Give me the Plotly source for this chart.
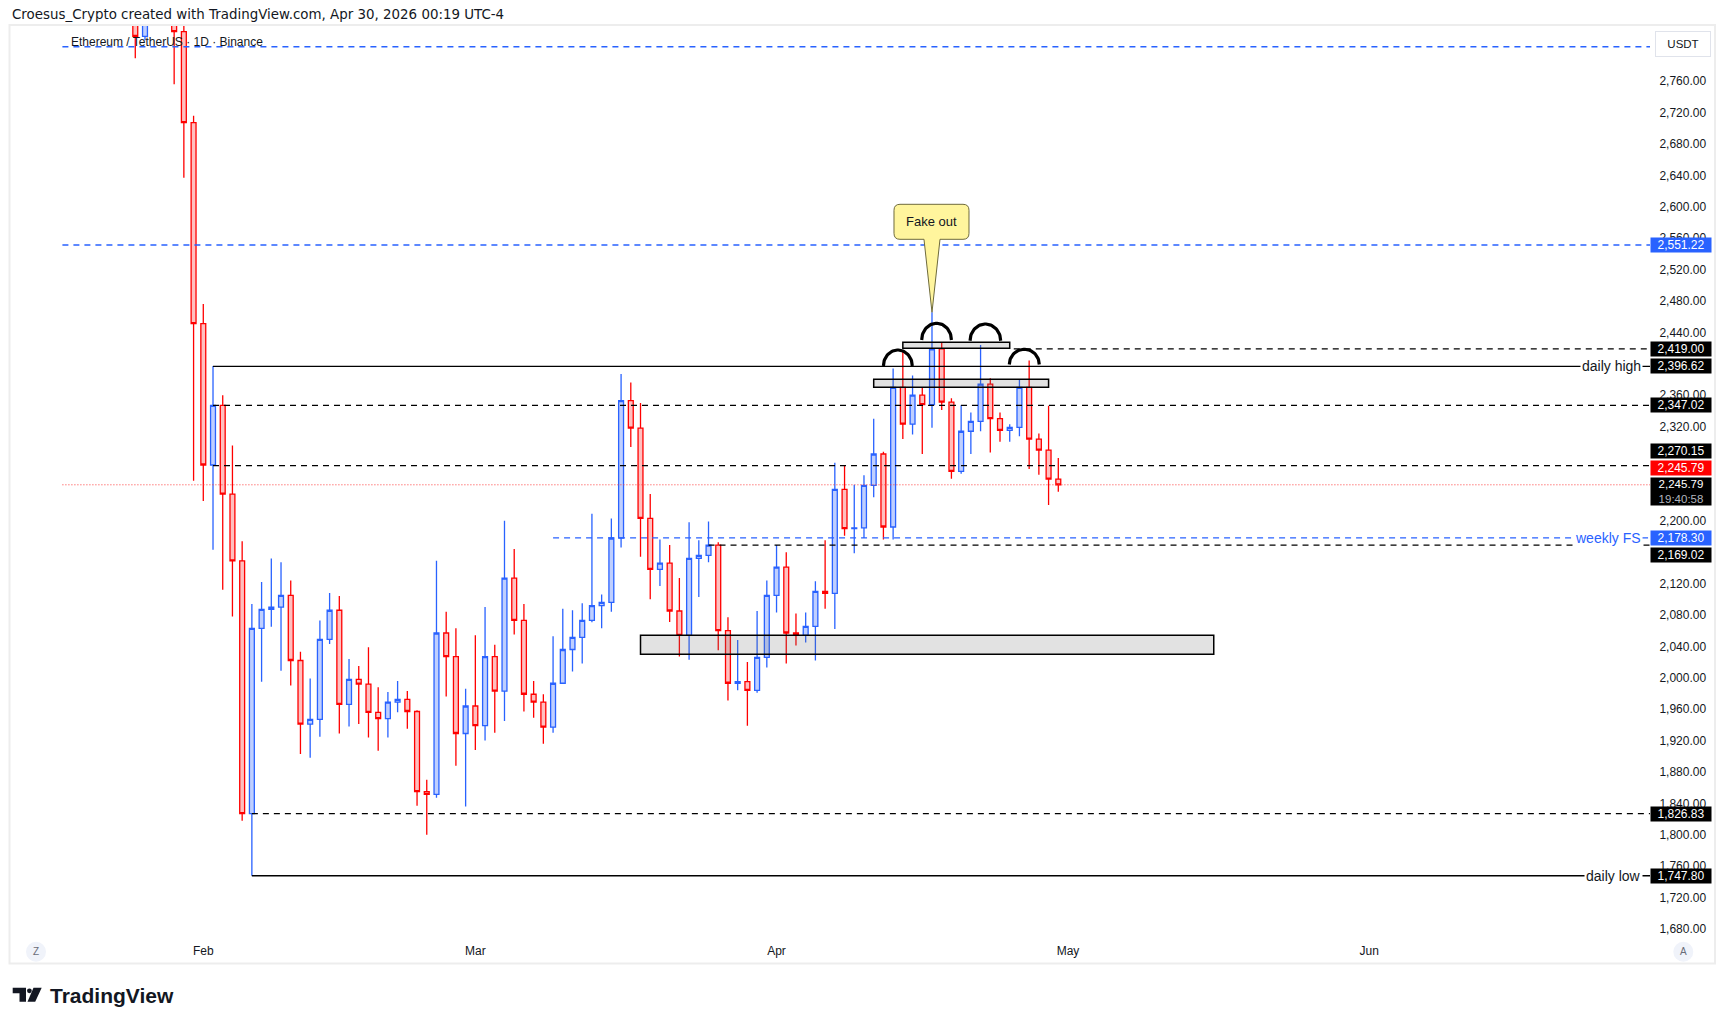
import numpy as np
import pandas as pd
import plotly.graph_objects as go

# ---------------- data ----------------
dates = ["2026-01-25", "2026-01-26", "2026-01-29", "2026-01-30", "2026-01-31",
         "2026-02-01", "2026-02-02", "2026-02-03", "2026-02-04", "2026-02-05", "2026-02-06",
         "2026-02-07", "2026-02-08", "2026-02-09", "2026-02-10", "2026-02-11", "2026-02-12",
         "2026-02-13", "2026-02-14", "2026-02-15", "2026-02-16", "2026-02-17", "2026-02-18",
         "2026-02-19", "2026-02-20", "2026-02-21", "2026-02-22", "2026-02-23", "2026-02-24",
         "2026-02-25", "2026-02-26", "2026-02-27", "2026-02-28",
         "2026-03-01", "2026-03-02", "2026-03-03", "2026-03-04", "2026-03-05", "2026-03-06",
         "2026-03-07", "2026-03-08", "2026-03-09", "2026-03-10", "2026-03-11", "2026-03-12",
         "2026-03-13", "2026-03-14", "2026-03-15", "2026-03-16", "2026-03-17", "2026-03-18",
         "2026-03-19", "2026-03-20", "2026-03-21", "2026-03-22", "2026-03-23", "2026-03-24",
         "2026-03-25", "2026-03-26", "2026-03-27", "2026-03-28", "2026-03-29", "2026-03-30",
         "2026-03-31",
         "2026-04-01", "2026-04-02", "2026-04-03", "2026-04-04", "2026-04-05", "2026-04-06",
         "2026-04-07", "2026-04-08", "2026-04-09", "2026-04-10", "2026-04-11", "2026-04-12",
         "2026-04-13", "2026-04-14", "2026-04-15", "2026-04-16", "2026-04-17", "2026-04-18",
         "2026-04-19", "2026-04-20", "2026-04-21", "2026-04-22", "2026-04-23", "2026-04-24",
         "2026-04-25", "2026-04-26", "2026-04-27", "2026-04-28", "2026-04-29", "2026-04-30"]

opens = [2858, 2817, 2862, 2823, 2707,
         2451, 2271, 2347, 2234, 2149, 1827,
         2063, 2087, 2090, 2105, 2022, 1941,
         1947, 2049, 2086, 1966, 1998, 1992,
         1956, 1948, 1969, 1972.5, 1957, 1855,
         1851.5, 2057, 2027, 1929,
         1964, 1939, 2027, 1983, 2127, 2073,
         1979, 1969, 1937, 1993, 2036, 2051.5,
         2073, 2092, 2096, 2178, 2353, 2318,
         2203, 2138, 2146, 2085, 2054, 2152,
         2156, 2169, 2060, 1993, 1995, 1984,
         2026,
         2105, 2141, 2057, 2054, 2065.5, 2110,
         2107.5, 2240, 2190, 2191, 2245, 2285,
         2192, 2370, 2323, 2360, 2348, 2419,
         2351, 2263, 2314, 2326.6, 2374, 2330,
         2315, 2319, 2370, 2304, 2290, 2253]

highs = [2875, 2880, 2890, 2836, 2716,
         2476, 2397, 2360, 2296, 2174, 2094,
         2122, 2152, 2147, 2124, 2033, 1999,
         2073, 2108, 2104, 2024, 2015, 2039,
         1988, 1982, 1996, 1983, 1958.5, 1870,
         2149, 2084, 2063, 1986,
         2054, 2090, 2042, 2200, 2164, 2094,
         1996, 1979, 2053, 2088, 2086, 2095,
         2209, 2106, 2203, 2387, 2376, 2350,
         2234, 2176, 2169, 2127, 2198, 2175,
         2199, 2172.5, 2077, 2048, 2020, 2085,
         2124,
         2169, 2160, 2082, 2083, 2123, 2175,
         2274, 2271, 2246, 2258, 2330, 2288,
         2394, 2416, 2385, 2370, 2465.5, 2427,
         2356, 2347, 2338, 2424, 2381.4, 2338,
         2323, 2380, 2404, 2311, 2346.5, 2280]

lows = [2789, 2812, 2756, 2637, 2251,
        2225, 2163, 2112, 2078, 1818, 1747.8,
        1995, 2065, 2009, 1990, 1903, 1898,
        1925, 2043, 1929, 1938, 1941, 1924,
        1907, 1924, 1956, 1935, 1837, 1800,
        1847, 1976, 1888, 1836,
        1908, 1920, 1930, 1945, 2055, 1957,
        1949, 1916, 1930, 1992, 2008, 2018,
        2070.6, 2063, 2084, 2166, 2294, 2154,
        2100, 2117, 2071, 2027, 2023, 2103,
        2147, 2035, 1971, 1984, 1939, 1981,
        2013,
        2083, 2018, 2041, 2045, 2022, 2088,
        2062, 2181, 2158.5, 2178, 2230, 2176,
        2176, 2304, 2310, 2285, 2318.5, 2341,
        2253.5, 2260, 2285, 2314, 2287, 2300.6,
        2300.6, 2307.5, 2266, 2258.6, 2220, 2237]

closes = [2817, 2848, 2823, 2707, 2451,
          2271, 2347, 2234, 2149, 1827, 2063,
          2087, 2090, 2105, 2022, 1941, 1947,
          2049, 2086, 1966, 1998, 1992, 1956,
          1948, 1969, 1972.5, 1957, 1855, 1851.5,
          2057, 2027, 1929, 1964,
          1939, 2027, 1983, 2127, 2073, 1979,
          1969, 1937, 1993, 2036, 2051.5, 2073,
          2092, 2096, 2178, 2353, 2318, 2203,
          2138, 2146, 2085, 2054, 2152, 2156,
          2169, 2060, 1993, 1995, 1984, 2026,
          2105,
          2141, 2057, 2054, 2065.5, 2110, 2107.5,
          2240, 2190, 2191, 2245, 2285, 2192,
          2370, 2323, 2360, 2348, 2419, 2351,
          2263, 2314, 2326.6, 2374, 2330, 2315,
          2319, 2370, 2304, 2290, 2253, 2245.79]

# horizontal level drawings
level_prices = [2803.8, 2551.22, 2419.00, 2396.62, 2347.02, 2270.15, 2245.79, 2178.30, 2169.02, 1826.83, 1747.80]
level_starts = ["2026-01-17 12:00", "2026-01-17 12:00", "2026-04-25 10:00", "2026-02-02", "2026-02-02",
                "2026-02-02", "2026-01-17 12:00", "2026-03-09", "2026-03-25", "2026-02-06", "2026-02-06"]
level_colors = ["#2962FF", "#2962FF", "#000000", "#000000", "#000000", "#000000", "#FF3B3B",
                "#2962FF", "#000000", "#000000", "#000000"]
level_dashes = ["6px,5px", "6px,5px", "6px,5px", "solid", "6px,5px", "6px,5px", "1px,2px",
                "6px,5px", "6px,5px", "6px,5px", "solid"]

# level texts
level_texts = ["daily high", "weekly FS", "daily low"]
level_text_prices = [2396.62, 2178.30, 1747.80]
level_text_colors = ["#131722", "#2962FF", "#131722"]

# price-axis labels
label_prices = [2551.22, 2419.00, 2396.62, 2347.02, 2270.15, 2245.79, 2178.30, 2169.02, 1826.83, 1747.80]
label_colors = ["#2962FF", "#000000", "#000000", "#000000", "#000000", "#FF0000", "#2962FF", "#000000", "#000000", "#000000"]
label_shift = [0, 0, 0, 0, 14.5, 16.7, 0, -9.7, 0, 0]
countdown_text = "19:40:58"
last_price = 2245.79

# rectangles (zones)
rect_x0 = ["2026-03-18", "2026-04-11", "2026-04-14"]
rect_x1 = ["2026-05-16", "2026-04-29", "2026-04-25"]
rect_y0 = [2029.8, 2370.0, 2419.6]
rect_y1 = [2054.0, 2380.1, 2427.3]

# arcs
arc_start = ["2026-04-12 00:00", "2026-04-15 22:30", "2026-04-20 22:00", "2026-04-24 23:00"]
arc_end = ["2026-04-14 23:20", "2026-04-19 00:00", "2026-04-24 01:40", "2026-04-28 01:00"]
arc_base = [2397.0, 2430.2, 2429.3, 2399.0]
arc_top = [2417.5, 2451.5, 2450.6, 2418.4]

# callout
callout_date = "2026-04-17"
callout_text = "Fake out"

# axes (ticks fully hidden behind price labels in the reference are left out)
month_ticks = ["2026-02-01", "2026-03-01", "2026-04-01", "2026-05-01", "2026-06-01"]
month_labels = ["Feb", "Mar", "Apr", "May", "Jun"]
hidden_ticks = [2160, 2240, 2280, 2400]
price_ticks = [v for v in range(1680, 2761, 40) if v not in hidden_ticks]
price_tick_labels = [f"{v:,.2f}" for v in price_ticks]

# ---------------- layout geometry ----------------
W, H = 1726, 1025
PL, PR, PT, PB = 11, 1650, 26, 938
PW, PH = PR - PL, PB - PT


def px(x):
    return (x - PL) / PW


def py(y):
    return (PB - y) / PH


FONT = "Liberation Sans, Arial, sans-serif"
HFONT = "DejaVu Sans, Verdana, sans-serif"
TXT = "#131722"

fig = go.Figure()

fig.add_trace(go.Candlestick(
    x=dates, open=opens, high=highs, low=lows, close=closes,
    increasing=dict(line=dict(color="#2962FF", width=1.3), fillcolor="#BFCFFF"),
    decreasing=dict(line=dict(color="#FF0000", width=1.3), fillcolor="#FFBFBF"),
    whiskerwidth=0, showlegend=False, hoverinfo="skip",
))

shapes = []
annotations = []

x_end = "2026-07-15"
for p, s, c, d in zip(level_prices, level_starts, level_colors, level_dashes):
    shapes.append(dict(type="line", xref="x", yref="y", x0=s, x1=x_end, y0=p, y1=p,
                       line=dict(color=c, width=1.3 if d != "1px,2px" else 1, dash=d), layer="above"))

for t, p, c in zip(level_texts, level_text_prices, level_text_colors):
    annotations.append(dict(xref="paper", yref="y", x=px(1643), y=p, xanchor="right", yanchor="middle",
                            text=t, showarrow=False, bgcolor="white", borderpad=1,
                            font=dict(family=FONT, size=14, color=c)))

for x0, x1, y0, y1 in zip(rect_x0, rect_x1, rect_y0, rect_y1):
    shapes.append(dict(type="rect", xref="x", yref="y", x0=x0, x1=x1, y0=y0, y1=y1,
                       fillcolor="rgba(110,110,110,0.2)", line=dict(color="#000000", width=1.5), layer="above"))

# arcs as smooth half-ellipses
for s, e, b, t in zip(arc_start, arc_end, arc_base, arc_top):
    ts, te = pd.Timestamp(s), pd.Timestamp(e)
    th = np.linspace(0, np.pi, 40)
    frac = (1 - np.cos(th)) / 2
    xs = [ts + (te - ts) * f for f in frac]
    ys = b + (t - b) * np.sin(th)
    fig.add_trace(go.Scatter(x=xs, y=ys, mode="lines", line=dict(color="black", width=3.2),
                             showlegend=False, hoverinfo="skip"))

# callout "Fake out"
ci = dates.index(callout_date)
cy = highs[ci]
shapes.append(dict(type="path", xref="x", yref="y", xsizemode="pixel", ysizemode="pixel",
                   xanchor=callout_date, yanchor=cy,
                   path="M -32,108 L 31,108 Q 37,108 37,102 L 37,79 Q 37,73 31,73 L 8,73 L 0,0 "
                        "L -8,73 L -32,73 Q -38,73 -38,79 L -38,102 Q -38,108 -32,108 Z",
                   fillcolor="#FFF59D", line=dict(color="#6E6A3C", width=1), layer="above"))
annotations.append(dict(xref="x", yref="y", x=callout_date, y=cy, yshift=90.5, xshift=-0.5,
                        text=callout_text, showarrow=False, xanchor="center", yanchor="middle",
                        font=dict(family=FONT, size=13, color=TXT)))

# price axis labels
for p, c, sh in zip(label_prices, label_colors, label_shift):
    annotations.append(dict(xref="paper", yref="y", x=px(1681), y=p, yshift=sh,
                            xanchor="center", yanchor="middle", text=f"{p:,.2f}", showarrow=False,
                            bgcolor=c, width=60, borderpad=0, align="center",
                            font=dict(family=FONT, size=12, color="white")))
annotations.append(dict(xref="paper", yref="y", x=px(1681), y=last_price, yshift=8,
                        xanchor="center", yanchor="top",
                        text=f"{last_price:,.2f}<br><span style='color:#B2B5BE'>{countdown_text}</span>",
                        showarrow=False, bgcolor="black", width=60, borderpad=0, align="center",
                        font=dict(family=FONT, size=11.5, color="white")))

# USDT box
annotations.append(dict(xref="paper", yref="paper", x=px(1683), y=py(44), xanchor="center", yanchor="middle",
                        text="USDT", showarrow=False, bgcolor="white", bordercolor="#E0E3EB", borderwidth=1,
                        width=52, height=22, font=dict(family=FONT, size=11.5, color=TXT)))

# header texts
annotations.append(dict(xref="paper", yref="paper", x=px(10), y=py(14), xanchor="left", yanchor="middle",
                        text="Croesus_Crypto created with TradingView.com, Apr 30, 2026 00:19 UTC-4",
                        showarrow=False, font=dict(family=HFONT, size=13.4, color=TXT)))
annotations.append(dict(xref="paper", yref="paper", x=px(69), y=py(41.5), xanchor="left", yanchor="middle",
                        text="Ethereum / TetherUS · 1D · Binance",
                        showarrow=False, font=dict(family=FONT, size=12, color=TXT)))

# frame
shapes.append(dict(type="rect", xref="paper", yref="paper", x0=px(9.5), x1=px(1715), y0=py(25), y1=py(963.5),
                   line=dict(color="#EDEDED", width=2), fillcolor="rgba(0,0,0,0)", layer="below"))

# Z and A buttons
for cx, t in [(36, "Z"), (1683.3, "A")]:
    shapes.append(dict(type="circle", xref="paper", yref="paper", x0=px(cx - 10), x1=px(cx + 10),
                       y0=py(951.7 + 10), y1=py(951.7 - 10), fillcolor="#F0F3FA", line=dict(width=0)))
    annotations.append(dict(xref="paper", yref="paper", x=px(cx), y=py(951.7), xanchor="center",
                            yanchor="middle", text=t, showarrow=False,
                            font=dict(family=FONT, size=10, color="#6A6D78")))

# TradingView logo
logo_path = (f"M {px(12.7)},{py(987.7)} L {px(26)},{py(987.7)} L {px(26)},{py(1001.7)} "
             f"L {px(19.5)},{py(1001.7)} L {px(19.5)},{py(993.3)} L {px(12.7)},{py(993.3)} Z")
shapes.append(dict(type="path", xref="paper", yref="paper", path=logo_path, fillcolor="#131722",
                   line=dict(width=0)))
shapes.append(dict(type="circle", xref="paper", yref="paper", x0=px(27), x1=px(31.8),
                   y0=py(993.2), y1=py(988.4), fillcolor="#131722", line=dict(width=0)))
slash = (f"M {px(33.5)},{py(987.7)} L {px(41.7)},{py(987.7)} L {px(35.2)},{py(1001.7)} "
         f"L {px(27.5)},{py(1001.7)} Z")
shapes.append(dict(type="path", xref="paper", yref="paper", path=slash, fillcolor="#131722",
                   line=dict(width=0)))
annotations.append(dict(xref="paper", yref="paper", x=px(48), y=py(995), xanchor="left", yanchor="middle",
                        text="<b>TradingView</b>", showarrow=False,
                        font=dict(family=FONT, size=21, color="#131722")))

x_range = ["2026-01-12 05:00", "2026-06-29 21:36"]
y_range = [1668.5, 2830.2]

fig.update_layout(
    width=W, height=H,
    margin=dict(l=PL, r=W - PR, t=PT, b=H - PB, pad=0),
    paper_bgcolor="white", plot_bgcolor="white",
    showlegend=False, hovermode=False,
    boxgap=0.28,
    xaxis=dict(type="date", range=x_range, rangeslider=dict(visible=False),
               tickvals=month_ticks, ticktext=month_labels, showgrid=False, zeroline=False,
               showline=False, ticks="outside", ticklen=2, tickcolor="rgba(0,0,0,0)",
               tickfont=dict(family=FONT, size=12, color=TXT), fixedrange=True),
    yaxis=dict(side="right", range=y_range, tickvals=price_ticks, ticktext=price_tick_labels,
               showgrid=False, zeroline=False, showline=False, ticks="outside", ticklen=6,
               tickcolor="rgba(0,0,0,0)", tickfont=dict(family=FONT, size=12, color=TXT), fixedrange=True),
    shapes=shapes,
    annotations=annotations,
)

fig.write_html("out.html")
